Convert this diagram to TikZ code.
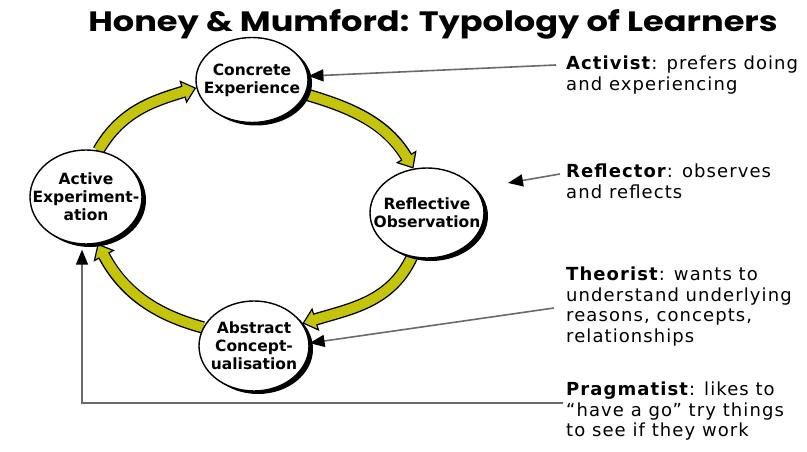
\documentclass[tikz,border=0pt]{standalone}
\usepackage{fontspec}
\usepackage{tikz}
\usetikzlibrary{arrows.meta,shapes.geometric,shadows,backgrounds}
\setsansfont{DejaVu Sans}
\newfontfamily\notefont[LetterSpace=6]{DejaVu Sans}
\newfontfamily\titlefont{Poppins}
\definecolor{ccycle}{HTML}{C4C40C}
\definecolor{cline}{HTML}{6A6A6A}
\tikzset{
  stage/.style={ellipse, draw, line width=1.4pt, fill=white, inner sep=0pt,
    drop shadow={shadow xshift=4pt, shadow yshift=-3pt, fill=black, opacity=1}},
  stagetext/.style={font=\fontsize{15.5}{18}\selectfont\sffamily\bfseries, align=center},
  cyc/.style={draw=black, line width=12.5pt,
    -{Triangle[length=14pt, width=24pt, fill=ccycle, line width=1.2pt]},
    postaction={draw=ccycle, line width=9.8pt, shorten >=12pt, -}},
  pointer/.style={draw=cline, line width=1.6pt, -{Triangle[length=15pt, width=12pt, color=black]}},
  note/.style={font=\fontsize{18}{20.5}\selectfont\notefont, align=left, anchor=north west, inner sep=0pt},
  heading/.style={font=\fontsize{28}{30}\selectfont\titlefont\bfseries, anchor=base, inner sep=0pt},
}
\begin{document}
\begin{tikzpicture}[x=1pt,y=1pt]
\useasboundingbox (0,0) rectangle (807,452);
\node[heading] (ttl) at (433,420) {\scalebox{1.2}[1]{Honey \& Mumford: Typology of Learners}};
\node[stage, minimum width=112pt, minimum height=85pt] (ce) at (252,372)
  [label={[stagetext]center:Concrete\\Experience}] {};
\node[stage, minimum width=114pt, minimum height=90pt] (ro) at (427,239)
  [label={[stagetext]center:Reflective\\Observation}] {};
\node[stage, minimum width=110pt, minimum height=90pt] (ac) at (254,106)
  [label={[stagetext]center:Abstract\\Concept-\\ualisation}] {};
\node[stage, minimum width=112pt, minimum height=94pt] (ae) at (86,255)
  [label={[stagetext]center:Active\\Experiment-\\ation}] {};
\begin{pgfonlayer}{background}
\draw[cyc] (ae.75) to[out=60, in=197] (ce.188);
\draw[cyc] (ce.-15) to[out=-16, in=121] (ro.107);
\draw[cyc] (ro.-109) to[out=245, in=17] (ac.25);
\draw[cyc] (ac.160) to[out=165, in=-62] (ae.-76);
\end{pgfonlayer}
\node[note] (act) at (566,396) {\textbf{Activist}: prefers doing\\and experiencing};
\node[note] (refl) at (566,288) {\textbf{Reflector}: observes\\and reflects};
\node[note] (theo) at (566,185) {\textbf{Theorist}: wants to\\understand underlying\\reasons, concepts,\\relationships};
\node[note] (prag) at (566,70) {\textbf{Pragmatist}: likes to\\“have a go” try things\\to see if they work};
\coordinate (refltip) at (508,269);
\draw[pointer] ([shift={(-10,-9)}]act.north west) -- (ce.4);
\draw[pointer] ([shift={(-6,-10)}]refl.north west) -- (refltip);
\draw[pointer] ([shift={(-12,-41)}]theo.north west) -- (ac.3);
\draw[pointer] ([shift={(-3,-21)}]prag.north west) -| ([xshift=-4pt,yshift=-5pt]ae.south);
\end{tikzpicture}
\end{document}
